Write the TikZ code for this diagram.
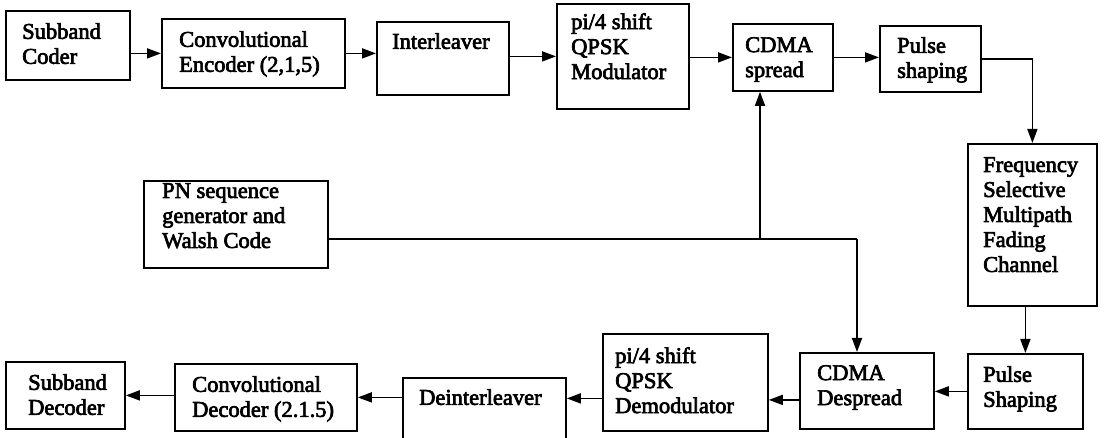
\documentclass[tikz,border=0pt]{standalone}
\usepackage{fontspec}
\setmainfont{Liberation Serif}
\newfontfamily\blkfont{Liberation Serif}[FakeBold=3]
\usetikzlibrary{arrows.meta}

\newlength{\du}
\setlength{\du}{1pt}

\tikzset{
  blk/.style={draw=black, line width=1.8\du, fill=white, inner sep=0pt, anchor=north west},
  txt/.style={anchor=north west, inner sep=0pt, align=left, font=\blkfont\fontsize{22.5}{25}\selectfont},
  wire/.style={line width=1.7\du},
  arr/.style={wire, -{Triangle[length=14pt,width=10pt]}}
}

\begin{document}
\begin{tikzpicture}
\pgftransformxscale{1.000000}
\pgftransformyscale{-1.000000}
\clip (0\du,0\du) rectangle (1104\du,438\du);
% transmitter
\node[blk, minimum width=124\du, minimum height=69\du] (coder) at (5\du,10\du) {};
\node[txt] (coder-t) at (22\du,23\du) {Subband\\Coder};
\node[blk, minimum width=183\du, minimum height=69\du] (enc) at (161\du,18\du) {};
\node[txt] (enc-t) at (179\du,31\du) {Convolutional\\Encoder (2,1,5)};
\node[blk, minimum width=132\du, minimum height=73\du] (intl) at (376\du,21\du) {};
\node[txt] (intl-t) at (392\du,33\du) {Interleaver};
\node[blk, minimum width=132\du, minimum height=105\du] (mod) at (556\du,3\du) {};
\node[txt] (mod-t) at (571\du,13\du) {pi/4 shift\\QPSK\\Modulator};
\node[blk, minimum width=100\du, minimum height=67\du] (spread) at (732\du,23\du) {};
\node[txt] (spread-t) at (745\du,37\du) {CDMA\\spread};
\node[blk, minimum width=101\du, minimum height=66\du] (pulse) at (879\du,25\du) {};
\node[txt] (pulse-t) at (897\du,37\du) {Pulse\\shaping};
% channel
\node[blk, minimum width=129\du, minimum height=162\du] (chan) at (967\du,143\du) {};
\node[txt] (chan-t) at (983\du,157\du) {Frequency\\Selective\\Multipath\\Fading\\Channel};
\node[blk, minimum width=184\du, minimum height=87\du] (pn) at (143\du,180\du) {};
\node[txt] (pn-t) at (162\du,183\du) {PN sequence\\generator and\\Walsh Code};
% receiver
\node[blk, minimum width=115\du, minimum height=75\du] (pulse2) at (967\du,353\du) {};
\node[txt] (pulse2-t) at (983\du,366\du) {Pulse\\Shaping};
\node[blk, minimum width=134\du, minimum height=76\du] (despread) at (799\du,352\du) {};
\node[txt] (despread-t) at (817\du,365\du) {CDMA\\Despread};
\node[blk, minimum width=165\du, minimum height=97\du] (demod) at (602\du,333\du) {};
\node[txt] (demod-t) at (615\du,347\du) {pi/4 shift\\QPSK\\Demodulator};
\node[blk, minimum width=163\du, minimum height=72\du] (deint) at (402\du,377\du) {};
\node[txt] (deint-t) at (419\du,389\du) {Deinterleaver};
\node[blk, minimum width=182\du, minimum height=67\du] (dec) at (174\du,363\du) {};
\node[txt] (dec-t) at (192\du,376\du) {Convolutional\\Decoder (2.1.5)};
\node[blk, minimum width=119\du, minimum height=67\du] (subdec) at (5\du,361\du) {};
\node[txt] (subdec-t) at (28\du,374\du) {Subband\\Decoder};
% connections
\draw[arr] (coder.east |- enc.west) -- (enc.west);
\draw[arr] (enc.east) -- (enc.east -| intl.west);
\draw[arr] (intl.east |- mod.west) -- (mod.west);
\draw[arr] (mod.east |- spread.west) -- (spread.west);
\draw[arr] (spread.east) -- (spread.east -| pulse.west);
\draw[arr] (pulse.east) -| (chan.north);
\draw[arr] (pulse2.north |- chan.south) -- (pulse2.north);
\draw[arr] (pulse2.west) -- (pulse2.west -| despread.east);
\draw[arr] ([yshift=9\du]despread.west) -- ([yshift=9\du]despread.west -| demod.east);
\draw[arr] ([yshift=16\du]demod.west) -- ([yshift=16\du]demod.west -| deint.east);
\draw[arr] (deint.west |- dec.east) -- (dec.east);
\draw[arr] (dec.west |- subdec.east) -- (subdec.east);
% PN code feed
\coordinate (tap) at (760\du,239\du);
\coordinate (bend) at (857\du,239\du);
\draw[wire] (pn.east |- tap) -- (tap) -- (bend);
\draw[arr] (tap) -- (tap |- spread.south);
\draw[arr] (bend) -- (bend |- despread.north);
\end{tikzpicture}
\end{document}
